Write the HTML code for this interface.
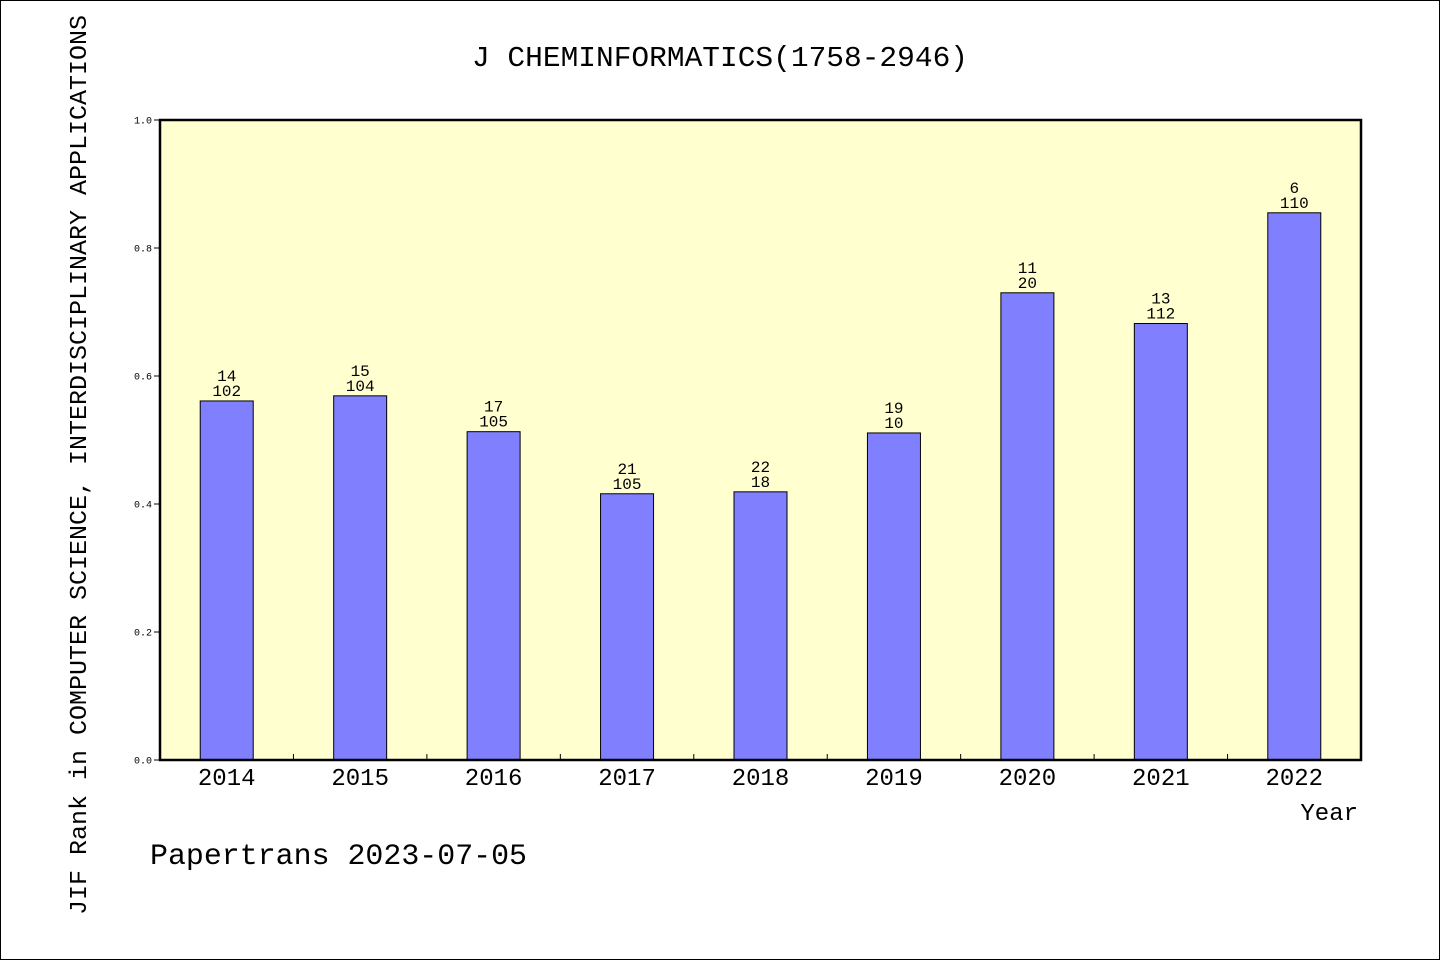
<!DOCTYPE html>
<html><head><meta charset="utf-8"><style>
html,body{margin:0;padding:0;background:#fff;}
svg{display:block;}
text{font-family:"Liberation Mono","DejaVu Sans Mono",monospace;fill:#000;}
</style></head><body>
<svg id="chart" width="1440" height="960" viewBox="0 0 1440 960">
<rect x="0.5" y="0.5" width="1439" height="959" fill="#fff" stroke="#000"/>
<text x="720" y="66" text-anchor="middle" font-size="29" textLength="496" lengthAdjust="spacingAndGlyphs">J CHEMINFORMATICS(1758-2946)</text>
<rect x="160" y="120" width="1201" height="640" fill="#ffffd0"/>
<g id="yticks"></g>
<g id="bars"></g>
<rect x="160" y="120" width="1201" height="640" fill="none" stroke="#000" stroke-width="2.5"/>
<text transform="translate(86,465) rotate(-90)" text-anchor="middle" font-size="24" textLength="900" lengthAdjust="spacingAndGlyphs">JIF Rank in COMPUTER SCIENCE, INTERDISCIPLINARY APPLICATIONS</text>
<text x="1358" y="820" text-anchor="end" font-size="24">Year</text>
<text x="150" y="864" font-size="30" textLength="377" lengthAdjust="spacingAndGlyphs">Papertrans 2023-07-05</text>
</svg>
<script>
const years = ["2014","2015","2016","2017","2018","2019","2020","2021","2022"];
const values = [0.561,0.569,0.513,0.416,0.419,0.511,0.730,0.682,0.855];
const ranks = ["14","15","17","21","22","19","11","13","6"];
const totals = ["102","104","105","105","18","10","20","112","110"];
const yTickLabels = ["0.0","0.2","0.4","0.6","0.8","1.0"];
const yTickValues = [0,0.2,0.4,0.6,0.8,1.0];

const NS="http://www.w3.org/2000/svg";
const X0=160,X1=1361,Y0=760,Y1=120;
const yScale=v=>Y0-(v-0)/(1-0)*(Y0-Y1);
const band=(X1-X0)/years.length;
const xCenter=i=>X0+band*(i+0.5);
function mk(tag,attrs,parent){const e=document.createElementNS(NS,tag);for(const k in attrs)e.setAttribute(k,attrs[k]);parent.appendChild(e);return e;}
const yt=document.getElementById('yticks');
yTickValues.forEach((v,i)=>{
  const y=yScale(v);
  const l=mk('line',{x1:X0-6,x2:X0,y1:y,y2:y,stroke:'#000','stroke-width':1},yt);
  
  
  const t=mk('text',{x:X0-8,y:y+3.5,'text-anchor':'end','font-size':10},yt);
  t.textContent=yTickLabels[i];
  
  
});
const bg=document.getElementById('bars');
const bw=53;
years.forEach((yr,i)=>{
  const cx=xCenter(i),top=yScale(values[i]);
  const r=mk('rect',{x:cx-bw/2,y:top,width:bw,height:Y0-top,fill:'#8080ff',stroke:'#000','stroke-width':1},bg);
  
  
  const t1=mk('text',{x:cx,y:top-20,'text-anchor':'middle','font-size':16},bg);
  t1.textContent=ranks[i];
  
  
  const t2=mk('text',{x:cx,y:top-5,'text-anchor':'middle','font-size':16},bg);
  t2.textContent=totals[i];
  
  
  const xl=mk('text',{x:cx,y:785,'text-anchor':'middle','font-size':24},bg);
  xl.textContent=yr;
  
  
  if(i>0){
    const bx=X0+band*i;
    const tk=mk('line',{x1:bx,x2:bx,y1:Y0,y2:Y0-6,stroke:'#000','stroke-width':1},bg);
    
    
  }
});
</script>
</body></html>
